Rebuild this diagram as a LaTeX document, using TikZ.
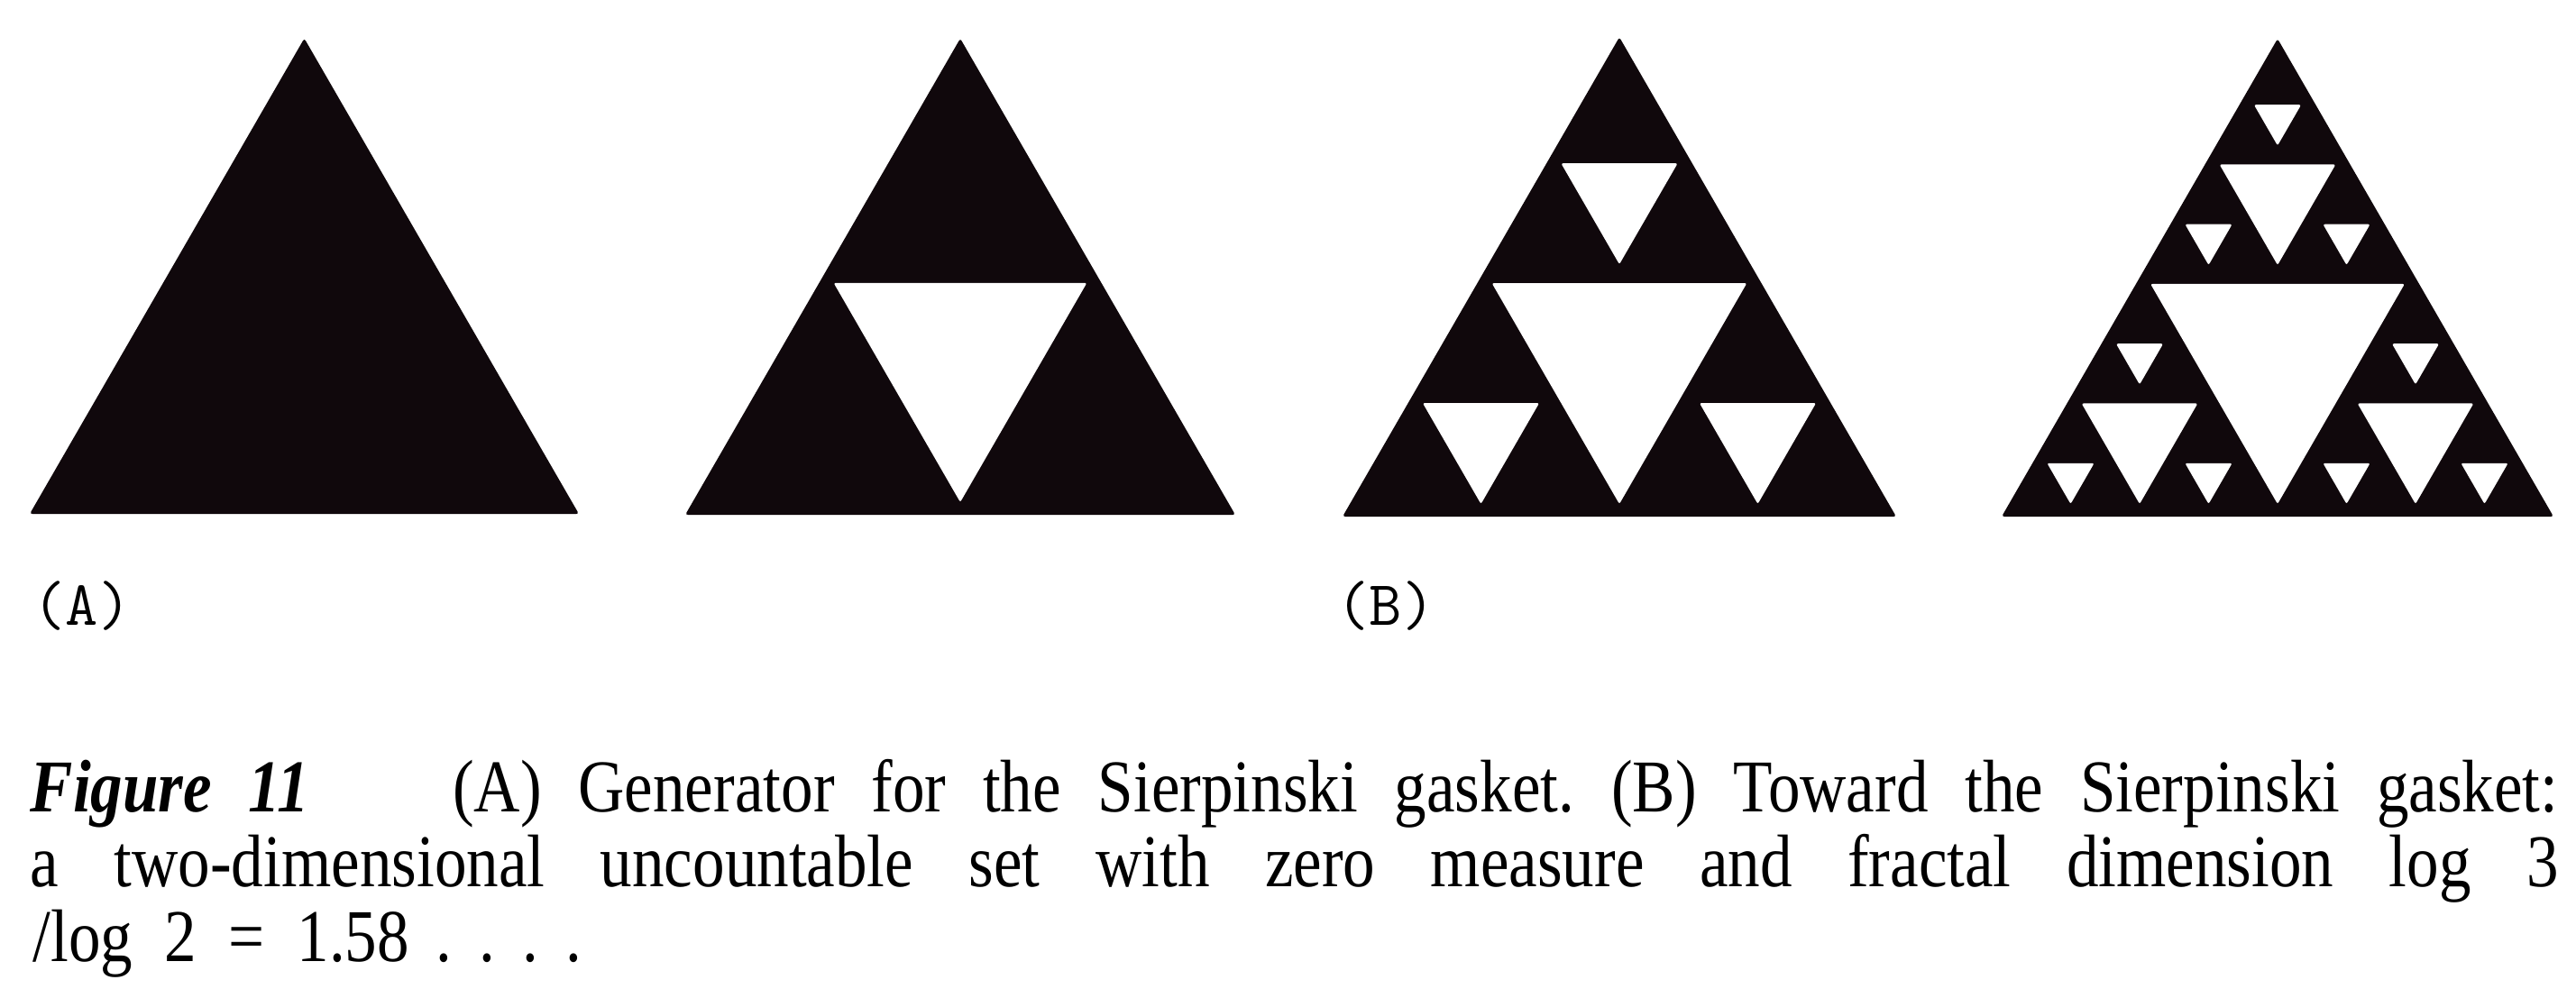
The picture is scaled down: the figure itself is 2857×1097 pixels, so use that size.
\documentclass[tikz,border=0pt]{standalone}
\usepackage{fontspec}
\setmainfont[FakeStretch=0.86]{Liberation Serif}
\definecolor{ink}{RGB}{16,8,12}
\newcommand\gapd{7}
% recursive gasket holes: x0 (base left), yb (base y, downward), side, depth
\newcommand\sierphole[4]{%
  \ifnum#4>0\relax
    \begingroup
    \pgfmathsetmacro\hs{#3/2}%
    \pgfmathsetmacro\rr{\hs/(2*sqrt(3))-\gapd}%
    \pgfmathsetmacro\cx{#1+#3/2}%
    \pgfmathsetmacro\cy{#2-#3*sqrt(3)/6}%
    \fill[holefill] (\cx-1.7320508*\rr,\cy-\rr) -- (\cx+1.7320508*\rr,\cy-\rr) -- (\cx,\cy+2*\rr) -- cycle;
    \pgfmathsetmacro\xm{#1+\hs}%
    \pgfmathsetmacro\xq{#1+\hs/2}%
    \pgfmathsetmacro\ym{#2-\hs*sqrt(3)/2}%
    \pgfmathtruncatemacro\dd{#4-1}%
    \edef\next{\noexpand\sierphole{#1}{#2}{\hs}{\dd}\noexpand\sierphole{\xm}{#2}{\hs}{\dd}\noexpand\sierphole{\xq}{\ym}{\hs}{\dd}}%
    \expandafter\endgroup\next
  \fi}
\newcommand\gasket[4]{%
  \fill[solidtri] (#1,#2) -- (#1+#3,#2) -- (#1+#3/2,#2-#3*0.8660254) -- cycle;
  \sierphole{#1}{#2}{#3}{#4}}
\begin{document}
\frenchspacing
\begin{tikzpicture}[x=0.01cm,y=-0.01cm,
  solidtri/.style={fill=ink,rounded corners=0.8pt},
  holefill/.style={fill=white,rounded corners=0.6pt},
  captext/.style={anchor=base west,inner sep=0pt,font=\fontsize{23.5pt}{28pt}\selectfont},
  labtext/.style={anchor=base west,inner sep=0pt,font=\fontsize{20pt}{24pt}\selectfont\ttfamily}]
\fill[white] (0,0) rectangle (2857,1097);
\useasboundingbox (0,0) rectangle (2857,1097);
\gasket{33}{570}{609}{0}
\gasket{760}{571}{610}{1}
\gasket{1489}{573}{614}{2}
\gasket{2220}{573}{612}{3}
\node[labtext] (labA) at (36,693) {(A)};
\node[labtext] (labB) at (1482,693) {(B)};
\node[captext] (cap1) at (33,900) {\makebox[28.02cm][s]{\textbf{\textit{Figure 11}}\hspace{1.59cm}(A) Generator for the Sierpinski gasket. (B) Toward the Sierpinski gasket:}};
\node[captext] (cap2) at (33,983) {\makebox[28.02cm][s]{a two-dimensional uncountable set with zero measure and fractal dimension log 3}};
\node[captext] (cap3) at (36,1066) {\makebox[4.17cm][s]{/log 2 = 1.58}\hspace{0.3cm}.\hspace{0.3cm}.\hspace{0.3cm}.\hspace{0.3cm}.};
\end{tikzpicture}
\end{document}
